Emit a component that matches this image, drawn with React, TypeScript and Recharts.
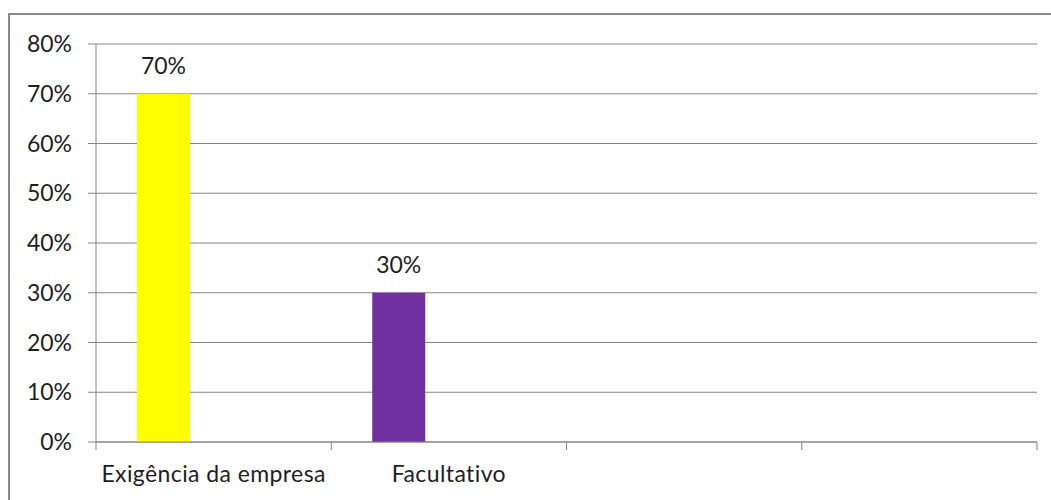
import React from 'react';
import { BarChart, Bar, XAxis, YAxis, CartesianGrid, Cell, LabelList } from 'recharts';

const categories = ['Exigência da empresa', 'Facultativo', '', ''];
const values = [0.7, 0.3, null, null];
const barColors = ['#FFFF00', '#7030A0', '#FFFF00', '#7030A0'];
const yTicks = [0, 0.1, 0.2, 0.3, 0.4, 0.5, 0.6, 0.7, 0.8];

const data = categories.map((name, i) => ({ name, value: values[i], spacer: null }));

const pct = (v: any) => (v == null ? '' : `${Math.round(v * 100)}%`);
const FONT = 'Lato, "Open Sans", sans-serif';
const GRAY = '#868686';
const TEXT = '#1e1e1e';
const FS = 23;
const X_MARGIN = 24;
const X_TICK = 8;

const CatTick = (props: any) => {
  const { x, y, payload, index, visibleTicksCount } = props;
  const half = payload?.offset ?? 0;
  const axisY = y - X_MARGIN;
  return (
    <g>
      <line x1={x - half} x2={x - half} y1={axisY} y2={axisY + X_TICK} stroke={GRAY} />
      {index === visibleTicksCount - 1 && (
        <line x1={x + half} x2={x + half} y1={axisY} y2={axisY + X_TICK} stroke={GRAY} />
      )}
      <text
        x={x}
        y={y}
        dy="0.71em"
        textAnchor="middle"
        fill={TEXT}
        style={{ fontSize: FS, fontFamily: FONT, fontVariantLigatures: 'none', letterSpacing: 0.4 }}
      >
        {payload.value}
      </text>
    </g>
  );
};

export default function App() {
  return (
    <div
      style={{
        position: 'absolute',
        left: 8,
        top: 13,
        width: 1043,
        height: 487,
        borderTop: '2px solid #8a8a8a',
        borderLeft: '2px solid #8a8a8a',
        boxSizing: 'border-box',
        background: '#fff',
      }}
    >
      <BarChart
        width={1041}
        height={485}
        data={data}
        margin={{ top: 29, right: 14, left: 0, bottom: 0 }}
        barSize={53}
        barGap={47}
        style={{ fontFamily: FONT }}
      >
        <CartesianGrid horizontal vertical={false} stroke={GRAY} />
        <XAxis
          dataKey="name"
          height={58}
          axisLine={{ stroke: GRAY }}
          tickLine={false}
          tickSize={0}
          tickMargin={X_MARGIN}
          interval={0}
          tick={<CatTick />}
        />
        <YAxis
          width={86}
          domain={[0, 0.8]}
          ticks={yTicks}
          tickFormatter={pct}
          axisLine={{ stroke: GRAY }}
          tickLine={{ stroke: GRAY }}
          tickSize={8}
          tickMargin={16}
          tick={{ fill: TEXT, fontSize: FS, fontFamily: FONT }}
        />
        <Bar dataKey="value" isAnimationActive={false}>
          {data.map((d, i) => (
            <Cell key={i} fill={barColors[i]} />
          ))}
          <LabelList
            dataKey="value"
            position="top"
            offset={20}
            formatter={pct}
            style={{ fill: TEXT, fontSize: FS, fontFamily: FONT }}
          />
        </Bar>
        <Bar dataKey="spacer" fill="transparent" isAnimationActive={false} />
      </BarChart>
    </div>
  );
}
